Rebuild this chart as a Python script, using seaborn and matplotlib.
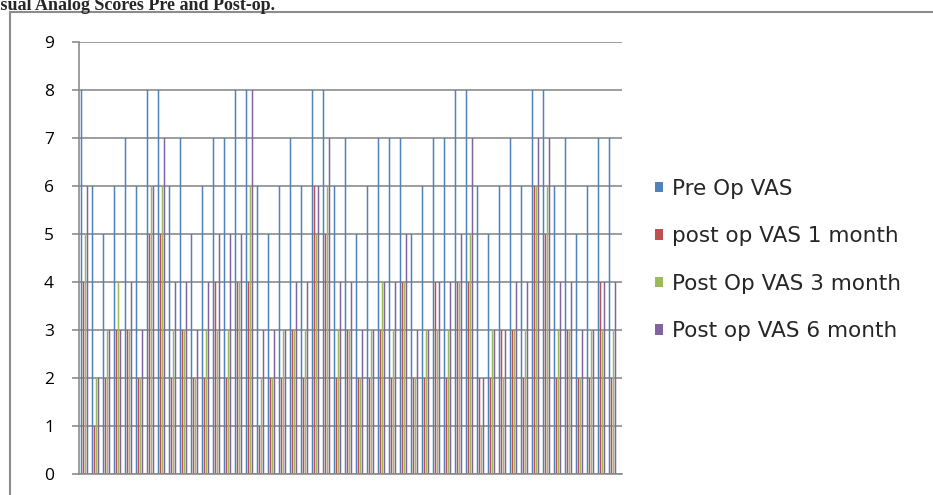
import matplotlib
matplotlib.use("Agg")
import matplotlib.pyplot as plt
import seaborn as sns
import pandas as pd
from matplotlib.patches import Rectangle

# VAS scores, one value per patient
series_names = ["Pre Op VAS", "post op VAS 1 month", "Post Op VAS 3 month", "Post op VAS 6 month"]
pre_op = [8, 6, 5, 6, 7, 6, 8, 8, 6, 7, 5, 6, 7, 7, 8, 8, 6, 5, 6, 7, 6, 8, 8, 6, 7,
          5, 6, 7, 7, 7, 5, 6, 7, 7, 8, 8, 6, 5, 6, 7, 6, 8, 8, 6, 7, 5, 6, 7, 7]
post_1m = [4, 1, 2, 3, 3, 2, 5, 5, 2, 3, 2, 2, 4, 2, 4, 4, 1, 2, 2, 3, 2, 6, 5, 2, 3,
           2, 2, 3, 2, 4, 2, 2, 4, 2, 4, 4, 2, 2, 3, 3, 2, 6, 5, 2, 3, 2, 2, 4, 2]
post_3m = [5, 2, 3, 4, 3, 2, 6, 6, 3, 3, 2, 3, 3, 3, 4, 6, 2, 2, 3, 3, 3, 5, 6, 3, 3,
           2, 3, 4, 3, 4, 2, 3, 3, 3, 4, 5, 1, 3, 2, 3, 3, 6, 6, 3, 3, 2, 3, 3, 3]
post_6m = [6, 2, 3, 3, 4, 3, 6, 7, 4, 4, 3, 4, 5, 5, 5, 8, 3, 3, 3, 4, 4, 6, 7, 4, 4,
           3, 3, 4, 4, 5, 3, 3, 4, 4, 5, 7, 2, 3, 3, 4, 4, 7, 7, 4, 4, 3, 3, 4, 4]
y_ticks = list(range(0, 10))
colors = ["#4F81BD", "#C0504D", "#9BBB59", "#8064A2"]

patients = list(range(1, len(pre_op) + 1))
df = pd.DataFrame({
    "patient": patients,
    series_names[0]: pre_op,
    series_names[1]: post_1m,
    series_names[2]: post_3m,
    series_names[3]: post_6m,
}).melt(id_vars="patient", var_name="series", value_name="score")

sns.set_theme(style="white")
plt.rcParams["font.family"] = ["Open Sans", "DejaVu Sans"]

W, H = 933, 495
fig = plt.figure(figsize=(W / 100, H / 100), dpi=100)
ax = fig.add_axes([79 / W, 21 / H, 543 / W, 432 / H])

# 11 px per patient, 2 px slot per series, 1.5 px wide bars
cat_px = 11
sns.barplot(data=df, x="patient", y="score", hue="series", hue_order=series_names,
            palette=colors, width=8 / cat_px, gap=0.25, saturation=1, linewidth=0,
            errorbar=None, ax=ax)
for bar in ax.patches:
    bar.set_snap(False)

# axes styling like the Excel chart
ax.set_ylim(0, 9)
ax.set_yticks(y_ticks)
ax.set_xlim(-0.5, -0.5 + 543 / cat_px)
ax.set_xticks([])
ax.set_xlabel("")
ax.set_ylabel("")
ax.yaxis.grid(True, color="#8c8c8c", linewidth=1.2)
ax.set_axisbelow(True)
for side in ["top", "right"]:
    ax.spines[side].set_visible(False)
for side in ["left", "bottom"]:
    ax.spines[side].set_color("#8c8c8c")
    ax.spines[side].set_linewidth(1.2)
ax.tick_params(axis="y", left=True, length=5, width=1.2, color="#8c8c8c",
               pad=13, labelsize=12.5, labelcolor="black")

leg_size = 15.5
sns.move_legend(ax, "center left", bbox_to_anchor=((655 - 0.4 * leg_size * 100 / 72) / W, 1 - 260 / H),
                bbox_transform=fig.transFigure, frameon=False, title=None,
                prop={"family": "DejaVu Sans", "size": leg_size},
                labelspacing=1.28, handlelength=0.38, handleheight=0.38,
                handletextpad=0.4, borderaxespad=0)

# outer chart border
fig.add_artist(Rectangle((10 / W, -0.1), 1.0, 1 - 12 / H + 0.1,
                         transform=fig.transFigure, fill=False,
                         edgecolor="#8c8c8c", linewidth=1.5))

# title, cut off at the top of the picture
fig.text(275 / W, 1 - 9.5 / H, "Visual Analog Scores Pre and Post-op.",
         ha="right", va="baseline", fontsize=13, fontweight="bold",
         family=["Liberation Serif", "DejaVu Serif"])

fig.savefig("out.png", dpi=100)
